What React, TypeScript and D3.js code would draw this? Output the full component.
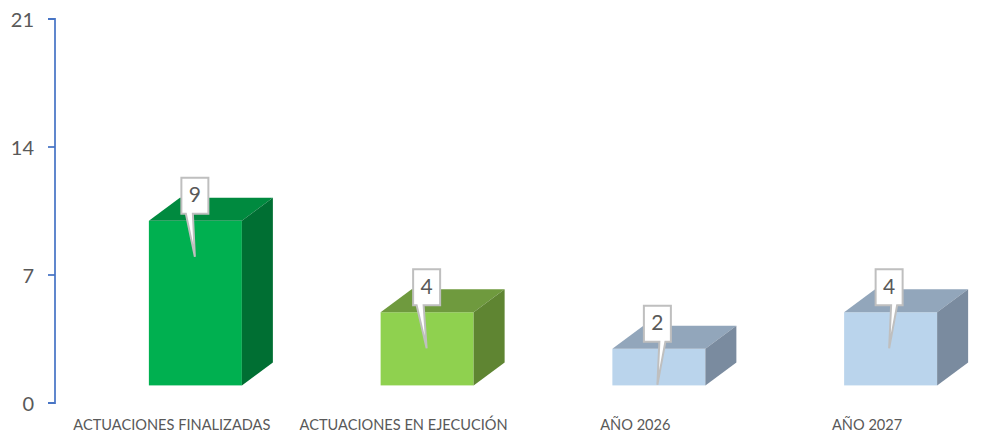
import React from "react";
import * as d3 from "d3";

const categories = ["ACTUACIONES FINALIZADAS", "ACTUACIONES EN EJECUCIÓN", "AÑO 2026", "AÑO 2027"];
const values = [9, 4, 2, 4];
const labels = ["9", "4", "2", "4"];
const ticks = [0, 7, 14, 21];
const frontColors = ["#00b050", "#8fd14f", "#bad4ec", "#bad4ec"];
const topColors = ["#008a3f", "#6f9a3e", "#92a6bb", "#92a6bb"];
const sideColors = ["#006f33", "#5f8532", "#7a8b9f", "#7a8b9f"];
const tipShift = [-0.5, -0.5, -1.5, -1.5];
const baseLeft = [-9, -10, 2, 2];
const baseRight = [-2, -3, 8, 8];

const W = 981, H = 445;
const yAxis = d3.scaleLinear().domain([0, 21]).range([403, 19]);
const x = d3.scaleBand<string>().domain(categories).range([56, 983]);
const DX = 31, DY = 23, FLOOR = 17.6, BW = 93, OFFSET = 23.5;

export default function App() {
  return (
    <svg width={W} height={H} style={{ position: "absolute", left: 0, top: 0, background: "#fff" }} fontFamily="Lato, Carlito, sans-serif">
      <path d={`M48,${yAxis(21)}H55V${yAxis(0)}H48`} fill="none" stroke="#4472c4" strokeWidth={2} opacity={0.85} />
      {ticks.map((t) => (
        <g key={t}>
          <line x1={48} x2={55} y1={yAxis(t)} y2={yAxis(t)} stroke="#4472c4" strokeWidth={2} opacity={0.85} />
          <text x={34} y={yAxis(t) + 3.2} textAnchor="end" dominantBaseline="middle" fontSize={20} fill="#595959">{t}</text>
        </g>
      ))}
      {categories.map((c, i) => {
        const cx = x(c)! + x.bandwidth() / 2;
        const x0 = cx + OFFSET - BW / 2;
        const x1 = x0 + BW;
        const bottom = yAxis(0) - FLOOR;
        const top = bottom - (yAxis(0) - yAxis(values[i]));
        const bx = x0 + BW / 2 + tipShift[i];
        const tipY = top + 36;
        const boxTop = top - 43;
        const boxBottom = boxTop + 36;
        return (
          <g key={c}>
            <rect x={x0} y={top} width={BW} height={bottom - top} fill={frontColors[i]} />
            <path d={`M${x0},${top}L${x0 + DX},${top - DY}H${x1 + DX}L${x1},${top}Z`} fill={topColors[i]} />
            <path d={`M${x1},${top}L${x1 + DX},${top - DY}V${bottom - DY}L${x1},${bottom}Z`} fill={sideColors[i]} />
            <path
              d={`M${bx - 13.5},${boxTop}H${bx + 13.5}V${boxBottom}H${bx + baseRight[i]}L${bx},${tipY}L${bx + baseLeft[i]},${boxBottom}H${bx - 13.5}Z`}
              fill="#fff" stroke="#bfbfbf" strokeWidth={2} strokeLinejoin="miter"
            />
            <text x={bx} y={boxTop + 19} textAnchor="middle" dominantBaseline="middle" fontSize={21} fill="#595959">{labels[i]}</text>
            <text x={cx} y={426.5} textAnchor="middle" dominantBaseline="middle" fontSize={14.6} fill="#595959">{c}</text>
          </g>
        );
      })}
    </svg>
  );
}
